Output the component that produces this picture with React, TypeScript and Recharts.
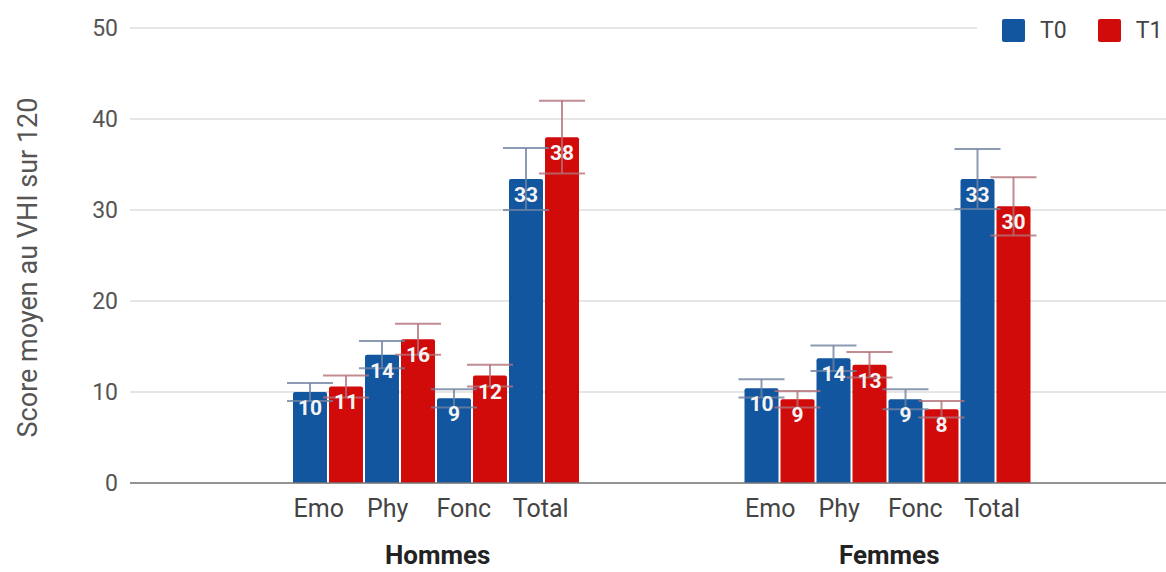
import React from "react";
import {
  BarChart,
  Bar,
  XAxis,
  YAxis,
  CartesianGrid,
  ErrorBar,
  LabelList,
  Legend,
} from "recharts";

const groups = ["Hommes", "Femmes"];
const measures = ["Emo", "Phy", "Fonc", "Total"];
const seriesNames = ["T0", "T1"];

// mean VHI scores
const hommesT0 = [10.0, 14.1, 9.3, 33.4];
const hommesT1 = [10.6, 15.8, 11.8, 38.0];
const femmesT0 = [10.4, 13.7, 9.2, 33.4];
const femmesT1 = [9.2, 13.0, 8.1, 30.4];

// error bar half lengths
const hommesT0Err = [1.0, 1.5, 1.0, 3.4];
const hommesT1Err = [1.2, 1.7, 1.2, 4.0];
const femmesT0Err = [1.0, 1.4, 1.1, 3.3];
const femmesT1Err = [0.9, 1.4, 0.9, 3.2];

const yTicks = [0, 10, 20, 30, 40, 50];
const yTitle = "Score moyen au VHI sur 120";

const FONT = "Roboto, 'Noto Sans', sans-serif";
const COLORS = ["#1356a0", "#d10a0a"];
const ERR_COLORS = ["#6f82a0", "#b27078"];
const BAR_SIZE = 34;
const BAR_GAP = 2;
// where the small labels sit under each group, relative to the group centre
const MEASURE_OFFSETS = [-117, -48, 28, 105];

const groupValues = [
  [hommesT0, hommesT1],
  [femmesT0, femmesT1],
];
const groupErrors = [
  [hommesT0Err, hommesT1Err],
  [femmesT0Err, femmesT1Err],
];

const data = groups.map((g, gi) => {
  const row: Record<string, string | number> = { group: g };
  measures.forEach((m, mi) => {
    seriesNames.forEach((s, si) => {
      row[`${m}_${s}`] = groupValues[gi][si][mi];
      row[`${m}_${s}_err`] = groupErrors[gi][si][mi];
    });
  });
  return row;
});

function GroupTick({ x, y, payload }: any) {
  return (
    <g>
      {measures.map((m, i) => (
        <text
          key={m}
          x={x + MEASURE_OFFSETS[i]}
          y={y + 34}
          textAnchor="middle"
          fontFamily={FONT}
          fontSize={25}
          fill="#444"
        >
          {m}
        </text>
      ))}
      <text
        x={x + 2}
        y={y + 81}
        textAnchor="middle"
        fontFamily={FONT}
        fontSize={26}
        fontWeight={700}
        fill="#222"
      >
        {payload.value}
      </text>
    </g>
  );
}

function YTitle({ viewBox }: any) {
  const cx = viewBox.x + 28;
  const cy = viewBox.y + viewBox.height / 2 + 12;
  return (
    <text
      x={cx}
      y={cy}
      transform={`rotate(-90, ${cx}, ${cy})`}
      textAnchor="middle"
      dominantBaseline="central"
      fontFamily={FONT}
      fontSize={27}
      fill="#555"
    >
      {yTitle}
    </text>
  );
}

function LegendBox() {
  return (
    <div
      style={{
        display: "flex",
        alignItems: "center",
        height: 34,
        paddingLeft: 25,
        background: "#fff",
        fontFamily: FONT,
        fontSize: 23,
        color: "#444",
      }}
    >
      {seriesNames.map((s, i) => (
        <div
          key={s}
          style={{ display: "flex", alignItems: "center", marginRight: i === 0 ? 31 : 0 }}
        >
          <span
            style={{
              width: 23,
              height: 23,
              borderRadius: 2,
              background: COLORS[i],
              marginRight: 15,
              display: "inline-block",
            }}
          />
          <span>{s}</span>
        </div>
      ))}
    </div>
  );
}

export default function App() {
  return (
    <div style={{ position: "absolute", left: 0, top: 0, width: 1166, height: 572, background: "#fff" }}>
      <BarChart
        width={1166}
        height={572}
        data={data}
        margin={{ top: 28, right: 0, bottom: 0, left: 0 }}
        barGap={BAR_GAP}
      >
        <CartesianGrid vertical={false} stroke="#dedede" strokeWidth={1.5} />
        <XAxis
          dataKey="group"
          height={89}
          padding={{ left: 80, right: 53 }}
          axisLine={{ stroke: "#777", strokeWidth: 1.5 }}
          tickLine={false}
          tickSize={0}
          tickMargin={0}
          interval={0}
          tick={<GroupTick />}
        />
        <YAxis
          width={130}
          domain={[0, 50]}
          ticks={yTicks}
          axisLine={false}
          tickLine={false}
          tickSize={0}
          tickMargin={12}
          tick={{ fill: "#555", fontSize: 23, fontFamily: FONT }}
          label={(props: any) => <YTitle {...props} />}
        />
        <Legend
          layout="horizontal"
          verticalAlign="middle"
          align="center"
          wrapperStyle={{ top: 13, left: 977, width: 189 }}
          content={() => <LegendBox />}
        />
        {measures.flatMap((m) =>
          seriesNames.map((s, si) => (
            <Bar
              key={`${m}_${s}`}
              dataKey={`${m}_${s}`}
              name={s}
              fill={COLORS[si]}
              barSize={BAR_SIZE}
              radius={[2, 2, 0, 0]}
              isAnimationActive={false}
            >
              <ErrorBar
                dataKey={`${m}_${s}_err`}
                width={23}
                stroke={ERR_COLORS[si]}
                strokeWidth={2}
                strokeOpacity={0.8}
              />
              <LabelList
                dataKey={`${m}_${s}`}
                position="insideTop"
                offset={8}
                formatter={(v: any) => Math.round(Number(v))}
                fill="#f4f4f4"
                fontSize={21}
                fontWeight={700}
                fontFamily={FONT}
              />
            </Bar>
          ))
        )}
      </BarChart>
    </div>
  );
}
